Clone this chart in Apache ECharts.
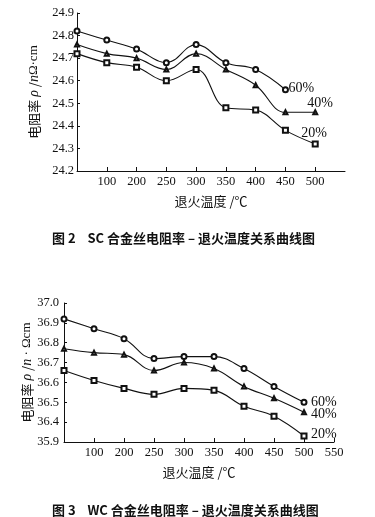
<!DOCTYPE html>
<html><head><meta charset="utf-8">
<script src="https://cdn.jsdelivr.net/npm/echarts@6/dist/echarts.min.js"></script>
<style>html,body{margin:0;padding:0;background:#fff}#c{width:375px;height:517px}</style>
</head><body><div id="c"></div>
<script>
// ---- data ----
const xCats1 = ['', '100', '200', '250', '300', '350', '400', '450', '500', ''];
const sc60 = [24.82, 24.78, 24.74, 24.68, 24.76, 24.68, 24.65, 24.56];
const sc40 = [24.76, 24.72, 24.70, 24.65, 24.72, 24.65, 24.58, 24.46, 24.46];
const sc20 = [24.72, 24.68, 24.66, 24.60, 24.65, 24.48, 24.47, 24.38, 24.32];
const scTicks = ['24.2', '24.3', '24.4', '24.5', '24.6', '24.7', '24.8', '24.9'];

const xCats2 = ['', '100', '200', '250', '300', '350', '400', '450', '500', '550'];
const wc60 = [36.92, 36.87, 36.82, 36.72, 36.73, 36.73, 36.67, 36.58, 36.50];
const wc40 = [36.77, 36.75, 36.74, 36.66, 36.70, 36.67, 36.58, 36.52, 36.45];
const wc20 = [36.66, 36.61, 36.57, 36.54, 36.57, 36.56, 36.48, 36.43, 36.33];
const wcTicks = ['35.9', '36.4', '36.5', '36.6', '36.7', '36.8', '36.9', '37.0'];

const seriesNames = ['60%', '40%', '20%'];
const caption1 = '图 2    SC 合金丝电阻率 – 退火温度关系曲线图';
const caption2 = '图 3    WC 合金丝电阻率 – 退火温度关系曲线图';
const xName = '退火温度 /℃';

// ---- styles ----
const serif = '"Liberation Serif", "DejaVu Serif", serif';
const cjk = '"Noto Sans CJK SC", sans-serif';
const black = '#111';

function xAxis(gi, cats) {
  return {
    type: 'category', gridIndex: gi, data: cats, boundaryGap: false,
    name: xName, nameLocation: 'middle', nameGap: 24,
    nameTextStyle: { fontFamily: cjk, fontSize: 13, color: black, verticalAlign: 'top' },
    axisLine: { lineStyle: { color: black, width: 1 } },
    axisTick: { inside: true, length: 4, lineStyle: { color: black },
      interval: (i, v) => v !== '' },
    axisLabel: { interval: 0, margin: 4, fontFamily: serif, fontSize: 12.5, color: black },
    splitLine: { show: false }
  };
}
function yAxis(gi, min, ticks, yname, gap, labMargin) {
  return {
    type: 'value', gridIndex: gi, min: min, max: min + 0.7, interval: 0.1,
    name: yname, nameLocation: 'middle', nameRotate: 90, nameGap: gap, nameMoveOverlap: false,
    nameTextStyle: { fontFamily: cjk, fontSize: 13, color: black,
      rich: {
        i: { fontFamily: serif, fontStyle: 'italic', fontSize: 14, color: black },
        s: { fontFamily: serif, fontSize: 13, color: black }
      } },
    axisLine: { show: true, lineStyle: { color: black, width: 1 } },
    axisTick: { show: true, inside: true, length: 3, lineStyle: { color: black } },
    axisLabel: { margin: labMargin, fontFamily: serif, fontSize: 12.5, color: black,
      formatter: v => ticks[Math.round((v - min) * 10)] },
    splitLine: { show: false }
  };
}
const symbols = ['emptyCircle', 'emptyTriangle', 'emptyRect'];
function line(gi, name, data, k, lab) {
  return {
    type: 'line', name: name, xAxisIndex: gi, yAxisIndex: gi, data: data,
    smooth: 0.4, symbol: symbols[k], symbolSize: k === 1 ? 4 : 5,
    lineStyle: { color: black, width: 1.1 },
    itemStyle: { color: black, borderColor: black, borderWidth: 0.9 },
    endLabel: Object.assign({ show: true, formatter: name, fontFamily: serif, fontSize: 14, color: black }, lab),
    animation: false
  };
}

const chart = echarts.init(document.getElementById('c'), null, { renderer: 'canvas' });
chart.setOption({
  backgroundColor: '#fff',
  animation: false,
  title: [
    { text: caption1, left: 47, top: 227, textStyle: { fontFamily: cjk, fontSize: 13, fontWeight: 'bold', color: black } },
    { text: caption2, left: 47, top: 499, textStyle: { fontFamily: cjk, fontSize: 13, fontWeight: 'bold', color: black } }
  ],
  grid: [
    { left: 77, top: 13, width: 268, height: 158 },
    { left: 64, top: 303, width: 270, height: 139 }
  ],
  xAxis: [xAxis(0, xCats1), xAxis(1, xCats2)],
  yAxis: [
    yAxis(0, 24.2, scTicks, '电阻率 {i|ρ} /{i|n}{s|Ω·cm}', 36, 3),
    yAxis(1, 36.3, wcTicks, '电阻率 {i|ρ} /{i|n}{s| · Ωcm}', 30, 5)
  ],
  series: [
    line(0, seriesNames[0], sc60, 0, { distance: 3, offset: [0, -1] }),
    line(0, seriesNames[1], sc40, 1, { distance: 0, offset: [-8, -9] }),
    line(0, seriesNames[2], sc20, 2, { distance: 0, offset: [-14, -11] }),
    line(1, seriesNames[0], wc60, 0, { distance: 7, offset: [0, 0] }),
    line(1, seriesNames[1], wc40, 1, { distance: 7, offset: [0, 2] }),
    line(1, seriesNames[2], wc20, 2, { distance: 7, offset: [0, -2] })
  ]
});
</script></body></html>
